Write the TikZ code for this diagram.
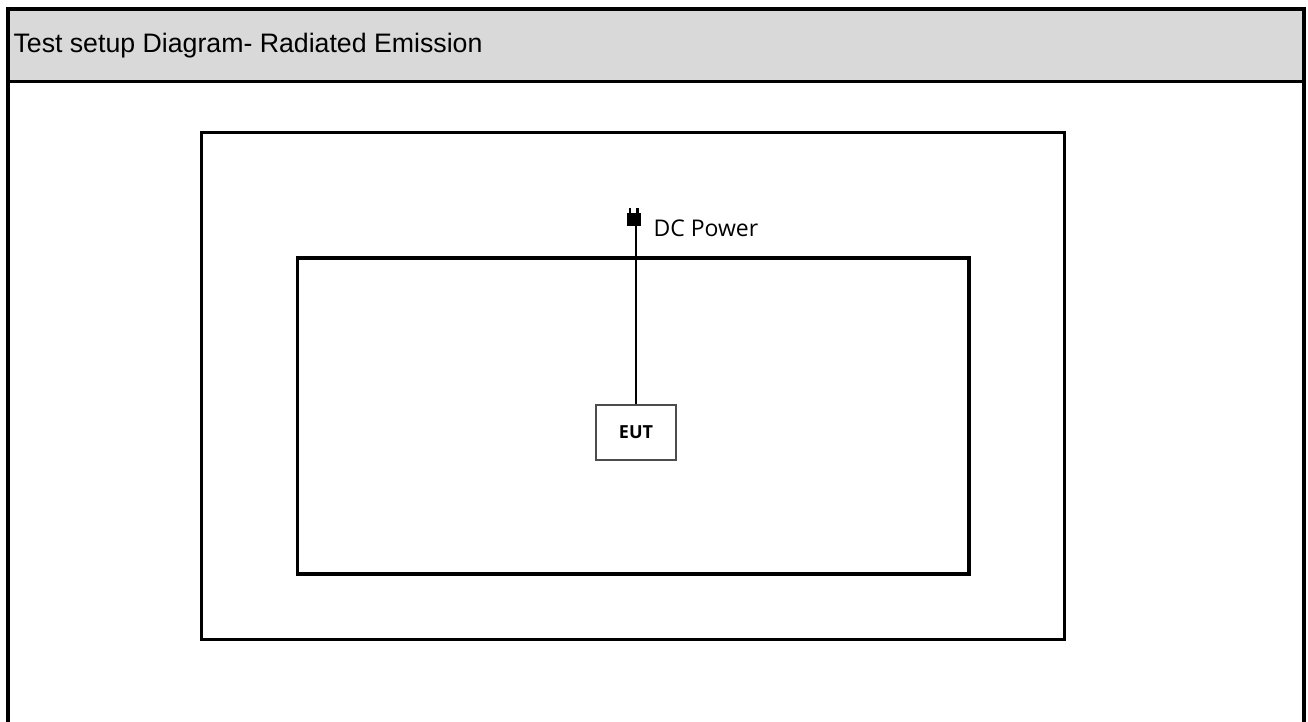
\documentclass[tikz,border=0pt]{standalone}
\usepackage{fontspec}
\setmainfont{Liberation Sans}
\newfontfamily\segoe{Open Sans}
\usetikzlibrary{positioning,calc}
\definecolor{headgray}{HTML}{D9D9D9}

\begin{document}
\begin{tikzpicture}[x=1pt,y=-1pt,
  wall/.style={draw,line width=3.2pt},
  eutbox/.style={draw=black!70,line width=1.8pt,minimum width=80pt,minimum height=55pt,inner sep=0pt,font=\segoe\bfseries\fontsize{18}{21}\selectfont},
  plug/.style={fill=black,minimum width=14pt,minimum height=13pt,inner sep=0pt}]

\useasboundingbox (0,0) rectangle (1308,722);

% frame and header
\fill[headgray] (8,9.5) rectangle (1304,82);
\draw[line width=4pt] (8,722) -- (8,9.5) -- (1304,9.5) -- (1304,722);
\draw[line width=3pt] (8,82) -- (1304,82);
\node[anchor=west,font=\fontsize{26.7}{30}\selectfont] (title) at (10,46) {Test setup Diagram- Radiated Emission};

% chambers
\draw[wall] (201.5,132.5) rectangle (1064.5,639.5);
\draw[wall] (297.5,258) rectangle (969,574);

\node[eutbox] (eut) at (636,432.5) {EUT};
\node[plug] (dc) at (634,219.5) {};
\fill (dc.north west) ++(2,0) rectangle ++(2.5,-5);
\fill (dc.north east) ++(-5,0) rectangle ++(2.5,-5);
\node[anchor=west,font=\segoe\fontsize{23}{26}\selectfont] (dclabel) at (650,228) {DC Power};

\draw[line width=1.8pt] (dc.south -| eut.north) -- (eut.north);

\end{tikzpicture}
\end{document}
